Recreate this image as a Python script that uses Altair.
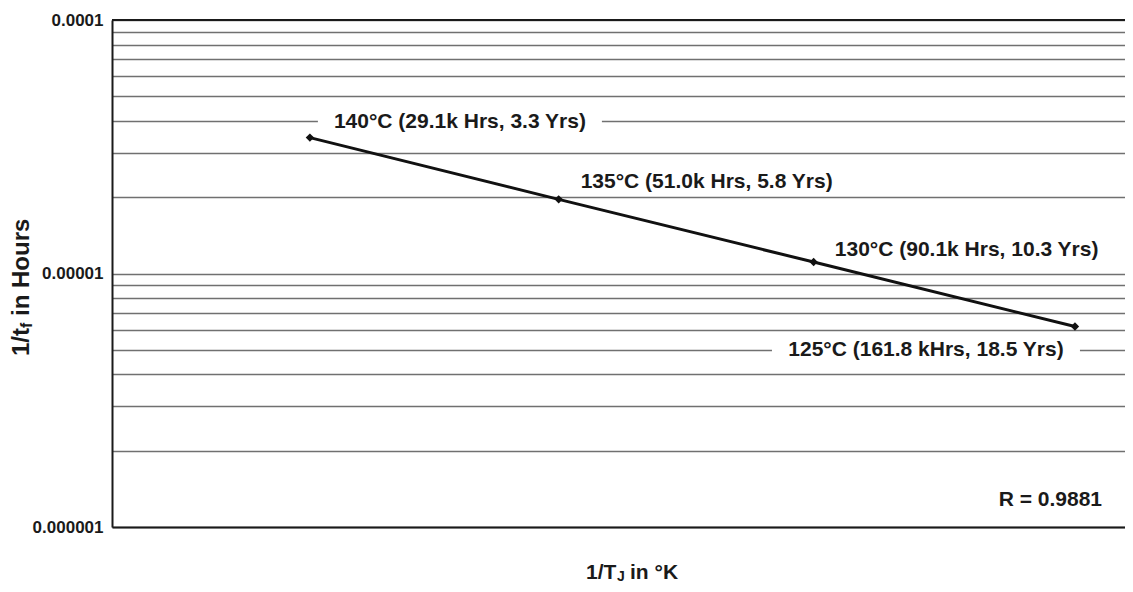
import altair as alt
import pandas as pd

# ---- data ----
temps_c = [140, 135, 130, 125]                 # junction temperature, degC
hours_k = [29.1, 51.0, 90.1, 161.8]            # time to fail, thousands of hours
label_texts = [
    "140°C (29.1k Hrs, 3.3 Yrs)",
    "135°C (51.0k Hrs, 5.8 Yrs)",
    "130°C (90.1k Hrs, 10.3 Yrs)",
    "125°C (161.8 kHrs, 18.5 Yrs)",
]
r_text = "R = 0.9881"
y_decades = [1e-6, 1e-5, 1e-4]
y_grid = [m * 10.0 ** e for e in (-6, -5) for m in range(1, 10)] + [1e-4]

df = pd.DataFrame({"temp": temps_c, "hours_k": hours_k, "label": label_texts})

# ---- layout / style ----
FONT = "Liberation Sans"
W, H = 1013, 507
# label placement relative to its point: (dx, dy, box width)
label_layout = {140: (150, -16, 284), 135: (148, -17, 282),
                130: (153, -12, 295), 125: (-149, 24, 308)}
BOX_H = 22

label_expr = ("datum.value < 2e-6 ? '0.000001' : "
              "(datum.value > 9.9e-6 && datum.value < 1.1e-5) ? '0.00001' : "
              "datum.value > 9.9e-5 ? '0.0001' : ''")

x_enc = alt.X("inv_t:Q",
              scale=alt.Scale(domain=[0.00239684, 0.00251758], nice=False, zero=False),
              axis=alt.Axis(labels=False, ticks=False, grid=False, title=None,
                            domainColor="#1a1a1a", domainWidth=2))
y_enc = alt.Y("inv_tf:Q",
              scale=alt.Scale(type="log", domain=[1e-6, 1e-4], nice=False),
              axis=alt.Axis(values=y_grid, labelExpr=label_expr, ticks=False, title=None,
                            grid=True, gridColor="#707070", gridWidth=1.3,
                            domainColor="#1a1a1a", domainWidth=2,
                            labelFont=FONT, labelFontSize=17, labelFontWeight="bold",
                            labelColor="#1a1a1a", labelPadding=9))

base = alt.Chart(df).transform_calculate(
    inv_t="1/(datum.temp + 273.15)",
    inv_tf="1/(datum.hours_k * 1000)",
).encode(x=x_enc, y=y_enc)

top_rule = alt.Chart(pd.DataFrame({"v": [y_decades[-1]]})).mark_rule(
    color="#1a1a1a", strokeWidth=2.2).encode(y=alt.Y("v:Q"))

layers = [top_rule]

boxes = []
texts = []
for t in temps_c:
    dx, dy, w = label_layout[t]
    r = BOX_H / w
    shape = f"M-1,{-r:.4f}L1,{-r:.4f}L1,{r:.4f}L-1,{r:.4f}Z"
    boxes.append(base.transform_filter(alt.datum.temp == t).mark_point(
        shape=shape, size=w * w, filled=True, color="white", opacity=1,
        strokeWidth=0, xOffset=dx, yOffset=dy))
    texts.append(base.transform_filter(alt.datum.temp == t).mark_text(
        font=FONT, fontSize=21, fontWeight="bold", color="#1a1a1a",
        align="center", baseline="middle", xOffset=dx, yOffset=dy
    ).encode(text="label:N"))

line = base.mark_line(color="#111111", strokeWidth=3)
pts = base.mark_point(shape="diamond", filled=True, color="#111111", size=70, opacity=1)

layers += boxes + [line, pts] + texts

# annotations (pixel positions in plot coordinates)
def ann(text, x, y, size=21, align="left", angle=0, baseline="middle"):
    return alt.Chart(pd.DataFrame({"t": [text]})).mark_text(
        font=FONT, fontSize=size, fontWeight="bold", color="#1a1a1a",
        align=align, baseline=baseline, angle=angle
    ).encode(text="t:N", x=alt.value(x), y=alt.value(y))

layers.append(ann(r_text, 990, 480, size=21, align="right"))

# x axis title: 1/T_J in °K
xt0 = 474
layers.append(ann("1/T", xt0, 553, size=21))
layers.append(ann("J", xt0 + 31, 557, size=14))
layers.append(ann("in °K", xt0 + 44, 553, size=21))

# y axis title: 1/t_f in Hours (rotated)
yt0 = 336
layers.append(ann("1/t", -90, yt0, size=24, angle=270))
layers.append(ann("f", -85, yt0 - 28, size=16, angle=270))
layers.append(ann("in", -90, yt0 - 40, size=24, angle=270))
layers.append(ann("Hours", -90, yt0 - 68, size=24, angle=270))

chart = alt.layer(*layers).properties(
    width=W, height=H, autosize="none",
    padding={"left": 104, "top": 12, "right": 0, "bottom": 57},
).configure_view(stroke=None).configure(font=FONT)

chart.save("out.html", embed_options={"renderer": "svg", "actions": False})
